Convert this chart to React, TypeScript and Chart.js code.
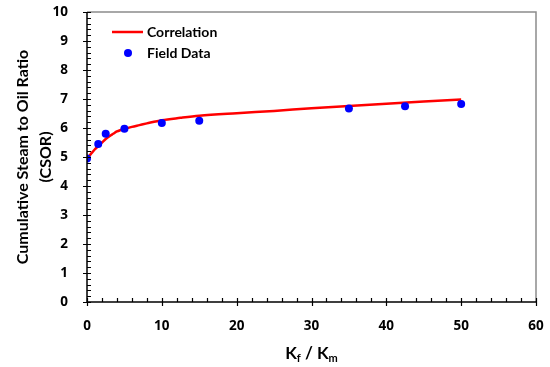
import React, { useEffect, useRef } from "react";
import { Chart, registerables } from "chart.js";

Chart.register(...registerables);

// Correlation curve (Kf/Km, CSOR)
const corrX = [0, 0.5, 1, 1.5, 2, 2.5, 3, 3.5, 4, 4.5, 5, 6, 7, 8, 10, 12.5, 15, 20, 25, 30, 35, 40, 45, 50];
const corrY = [4.95, 5.1, 5.25, 5.38, 5.5, 5.62, 5.72, 5.8, 5.88, 5.93, 5.97, 6.04, 6.1, 6.16, 6.27, 6.35, 6.42, 6.51, 6.59, 6.68, 6.76, 6.84, 6.91, 6.98];

// Field data points
const fieldX = [0, 1.5, 2.5, 5, 10, 15, 35, 42.5, 50];
const fieldY = [4.95, 5.45, 5.8, 5.97, 6.17, 6.25, 6.67, 6.75, 6.83];

const xTicks = [0, 10, 20, 30, 40, 50, 60];
const yTicks = [0, 1, 2, 3, 4, 5, 6, 7, 8, 9, 10];

const seriesNames = ["Correlation", "Field Data"];
const yTitleLines = ["Cumulative Steam to Oil Ratio", "(CSOR)"];

const FONT = "Lato, 'Open Sans', sans-serif";
const TICK_FONT = "'Open Sans', Lato, sans-serif";

const decorPlugin = {
  id: "decor",
  afterDraw(chart: any) {
    const ctx = chart.ctx;
    const a = chart.chartArea;
    const xs = chart.scales.x;
    const ys = chart.scales.y;
    ctx.save();
    // gray frame top/right
    ctx.strokeStyle = "#8c8c8c";
    ctx.lineWidth = 1.5;
    ctx.beginPath();
    ctx.moveTo(a.left, a.top);
    ctx.lineTo(a.right, a.top);
    ctx.lineTo(a.right, a.bottom);
    ctx.stroke();
    // black axes
    ctx.strokeStyle = "#000";
    ctx.lineWidth = 1.5;
    ctx.beginPath();
    ctx.moveTo(a.left, a.top);
    ctx.lineTo(a.left, a.bottom);
    ctx.lineTo(a.right, a.bottom);
    ctx.stroke();
    // ticks
    ctx.lineWidth = 1.2;
    ctx.beginPath();
    for (let v = 0; v <= 60.001; v += 2) {
      const px = Math.round(xs.getPixelForValue(v)) + 0.5;
      const major = Math.abs(v % 10) < 1e-6;
      ctx.moveTo(px, a.bottom - 4);
      ctx.lineTo(px, a.bottom + (major ? 4 : 0));
    }
    for (let i = 0; i <= 50; i++) {
      const v = i * 0.2;
      const py = Math.round(ys.getPixelForValue(v)) + 0.5;
      const major = i % 5 === 0;
      ctx.moveTo(a.left + 4, py);
      ctx.lineTo(a.left - (major ? 4 : 0), py);
    }
    ctx.stroke();

    // y title
    ctx.fillStyle = "#000";
    ctx.font = `bold 16px ${FONT}`;
    ctx.textAlign = "center";
    ctx.textBaseline = "middle";
    const cy = (a.top + a.bottom) / 2;
    [23, 46].forEach((x, i) => {
      ctx.save();
      ctx.translate(x, cy);
      ctx.rotate(-Math.PI / 2);
      ctx.fillText(yTitleLines[i], 0, 0);
      ctx.restore();
    });

    // x title: K_f / K_m
    const big = `bold 17px ${FONT}`;
    const small = `bold 11px ${FONT}`;
    const parts: [string, string, number][] = [
      ["K", big, 0],
      ["f", small, 3],
      [" / K", big, 0],
      ["m", small, 3],
    ];
    let total = 0;
    parts.forEach(([t, f]) => {
      ctx.font = f;
      total += ctx.measureText(t).width;
    });
    let x0 = (a.left + a.right) / 2 - total / 2;
    const base = 359;
    ctx.textAlign = "left";
    ctx.textBaseline = "alphabetic";
    parts.forEach(([t, f, dy]) => {
      ctx.font = f;
      ctx.fillText(t, x0, base + dy);
      x0 += ctx.measureText(t).width;
    });

    // legend
    ctx.font = `bold 14px ${FONT}`;
    ctx.textBaseline = "middle";
    ctx.strokeStyle = "#ff0000";
    ctx.lineWidth = 2.5;
    ctx.beginPath();
    ctx.moveTo(112, 32);
    ctx.lineTo(143, 32);
    ctx.stroke();
    ctx.fillStyle = "#000";
    ctx.fillText(seriesNames[0], 147, 32);
    ctx.fillStyle = "#0000ff";
    ctx.beginPath();
    ctx.arc(128, 53, 4, 0, Math.PI * 2);
    ctx.fill();
    ctx.fillStyle = "#000";
    ctx.fillText(seriesNames[1], 147, 53);
    ctx.restore();
  },
};

const zeroPad = (s: any) => {
  s.paddingTop = 0;
  s.paddingBottom = 0;
  s.paddingLeft = 0;
  s.paddingRight = 0;
};

export default function App() {
  const ref = useRef<HTMLCanvasElement>(null);
  useEffect(() => {
    document.body.style.margin = "0";
    const chart = new Chart(ref.current!, {
      type: "scatter",
      data: {
        datasets: [
          {
            type: "line",
            label: seriesNames[0],
            data: corrX.map((x, i) => ({ x, y: corrY[i] })),
            borderColor: "#ff0000",
            borderWidth: 2.5,
            pointRadius: 0,
            cubicInterpolationMode: "monotone",
            fill: false,
            order: 1,
          } as any,
          {
            type: "scatter",
            label: seriesNames[1],
            data: fieldX.map((x, i) => ({ x, y: fieldY[i] })),
            backgroundColor: "#0000ff",
            borderColor: "#0000ff",
            borderWidth: 0,
            pointRadius: 4,
            order: 0,
          },
        ],
      },
      options: {
        animation: false,
        responsive: false,
        maintainAspectRatio: false,
        layout: { padding: { left: 0, top: 12, right: 14, bottom: 0 } },
        plugins: { legend: { display: false }, tooltip: { enabled: false } },
        scales: {
          x: {
            type: "linear",
            min: 0,
            max: 60,
            grid: { display: false },
            border: { display: false },
            afterBuildTicks: (s: any) => {
              s.ticks = xTicks.map((v) => ({ value: v }));
            },
            afterFit: (s: any) => {
              s.height = 65;
              zeroPad(s);
            },
            ticks: {
              padding: 8,
              color: "#000",
              font: { family: TICK_FONT, size: 13.5, weight: "bold" },
            },
          },
          y: {
            type: "linear",
            min: 0,
            max: 10,
            grid: { display: false },
            border: { display: false },
            afterBuildTicks: (s: any) => {
              s.ticks = yTicks.map((v) => ({ value: v }));
            },
            afterFit: (s: any) => {
              s.width = 87;
              zeroPad(s);
            },
            ticks: {
              padding: 11,
              color: "#000",
              font: { family: TICK_FONT, size: 13.5, weight: "bold" },
            },
          },
        },
      },
      plugins: [decorPlugin],
    });
    return () => chart.destroy();
  }, []);
  return (
    <div style={{ width: 550, height: 367, position: "relative" }}>
      <canvas ref={ref} width={550} height={367} style={{ display: "block" }} />
    </div>
  );
}
